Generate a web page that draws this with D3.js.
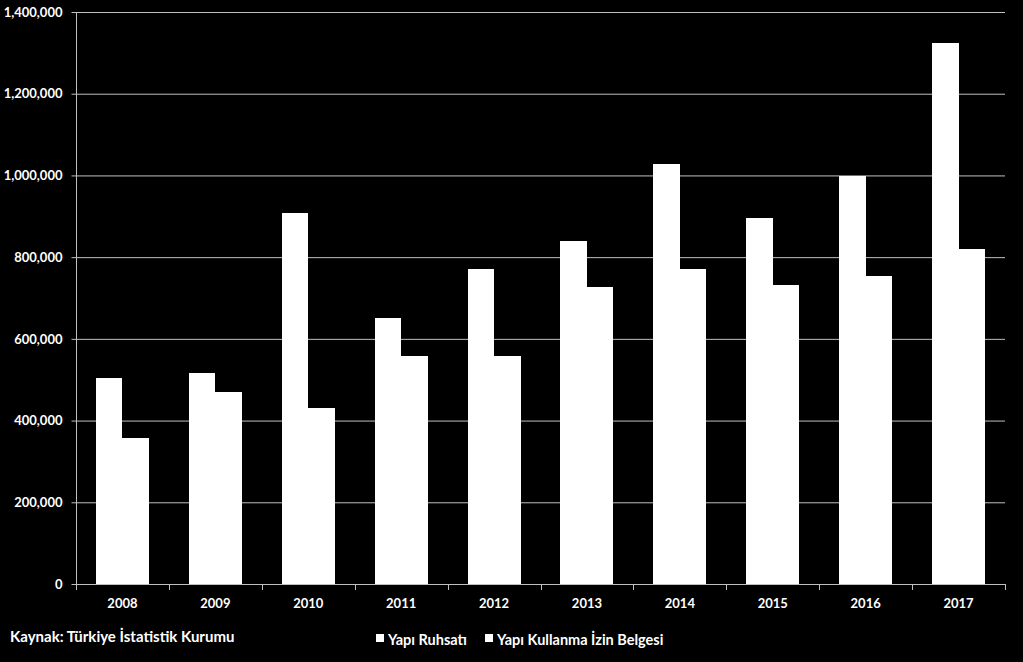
<!DOCTYPE html>
<html><head><meta charset="utf-8">
<script src="https://cdn.jsdelivr.net/npm/d3@7"></script>
<style>
html,body{margin:0;padding:0;background:#000;}
svg{display:block;}
text{font-family:Lato,"Open Sans",sans-serif;font-weight:bold;fill:#fff;}
</style></head><body>
<svg id="c" width="1023" height="662"></svg>
<script>
const years = ["2008","2009","2010","2011","2012","2013","2014","2015","2016","2017"];
const seriesNames = ["Yapı Ruhsatı","Yapı Kullanma İzin Belgesi"];
const ruhsat = [504000,517000,908000,651000,771000,839000,1028000,897000,999000,1323000];
const kullanma = [357000,470000,431000,558000,558000,727000,771000,733000,754000,820000];
const yTicks = [0,200000,400000,600000,800000,1000000,1200000,1400000];
const sourceText = "Kaynak: Türkiye İstatistik Kurumu";

const svg = d3.select("#c");
const L = 76, R = 1005, T = 12, B = 584;
const x = d3.scaleBand().domain(years).range([L,R]).paddingInner(0.43).paddingOuter(0.215);
const x1 = d3.scaleBand().domain([0,1]).range([0,x.bandwidth()]);
const y = d3.scaleLinear().domain([0,1400000]).range([B,T]);

// gridlines
svg.append("g").selectAll("line").data(yTicks.filter(d=>d>0)).join("line")
  .attr("x1",L).attr("x2",R).attr("y1",d=>y(d)+0.5).attr("y2",d=>y(d)+0.5)
  .attr("stroke","#bfbfbf").attr("stroke-width",1);

// bars
const data = years.map((yr,i)=>({yr, v:[ruhsat[i],kullanma[i]]}));
const g = svg.append("g").attr("shape-rendering","crispEdges").selectAll("g").data(data).join("g");
g.selectAll("rect").data(d=>d.v.map((v,k)=>({yr:d.yr,v,k}))).join("rect")
  .attr("x",d=>Math.round(x(d.yr)+x1(d.k)))
  .attr("width",d=>Math.round(x(d.yr)+x1(d.k)+x1.bandwidth())-Math.round(x(d.yr)+x1(d.k)))
  .attr("y",d=>Math.round(y(d.v))).attr("height",d=>B-Math.round(y(d.v)))
  .attr("fill","#fff");

// y axis
const yAxis = d3.axisLeft(y).tickValues(yTicks).tickSize(5).tickPadding(9)
  .tickFormat(d3.format(","));
const ya = svg.append("g").attr("transform",`translate(${L+0.5},0)`).call(yAxis);
ya.select(".domain").attr("stroke","#bfbfbf").attr("d",`M0,${T}V${B+0.5}`);
ya.selectAll(".tick line").attr("stroke","#bfbfbf");
ya.selectAll(".tick text").attr("font-size",13).attr("fill","#fff");

// x axis
const xa = svg.append("g").attr("transform",`translate(0,${B+0.5})`)
  .call(d3.axisBottom(x).tickSize(0).tickPadding(14));
xa.select(".domain").attr("stroke","#bfbfbf").attr("d",`M${L},0H${R}`);
xa.selectAll(".tick text").attr("font-size",13).attr("fill","#fff");
// category separators
const seps = d3.range(years.length+1).map(i=>L+(R-L)*i/years.length);
svg.append("g").selectAll("line").data(seps).join("line")
  .attr("x1",d=>Math.round(d)+0.5).attr("x2",d=>Math.round(d)+0.5)
  .attr("y1",B).attr("y2",B+6).attr("stroke","#bfbfbf");

// source
svg.append("text").attr("x",10).attr("y",642).attr("font-size",15).text(sourceText);

// legend
const legX = [376,485];
const lg = svg.append("g").selectAll("g").data(seriesNames).join("g")
  .attr("transform",(d,i)=>`translate(${legX[i]},645)`);
lg.append("rect").attr("x",0).attr("y",-11).attr("width",8).attr("height",8).attr("fill","#fff");
lg.append("text").attr("x",12).attr("y",0).attr("font-size",14.5).text(d=>d);
</script>
</body></html>
